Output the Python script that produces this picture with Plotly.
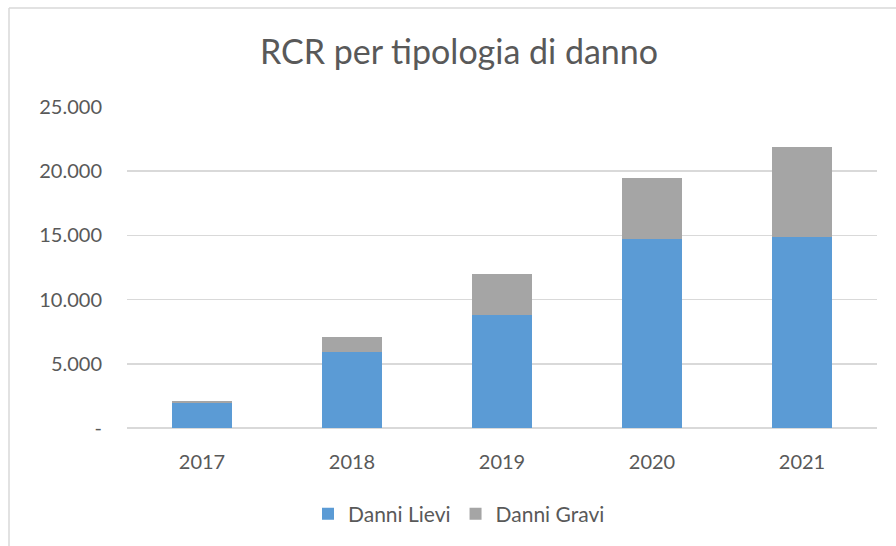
import plotly.graph_objects as go

years = ["2017", "2018", "2019", "2020", "2021"]
danni_lievi = [1950, 5900, 8800, 14700, 14900]
danni_gravi = [120, 1200, 3200, 4800, 7000]
y_tick_vals = [0, 5000, 10000, 15000, 20000, 25000]
y_tick_text = ["-", "5.000", "10.000", "15.000", "20.000", "25.000"]

FONT = "Lato"
TXT = "#595959"

fig = go.Figure()
fig.add_trace(go.Bar(x=years, y=danni_lievi, name="Danni Lievi",
                     marker=dict(color="#5B9BD5", line=dict(width=0))))
fig.add_trace(go.Bar(x=years, y=danni_gravi, name="Danni Gravi",
                     marker=dict(color="#A5A5A5", line=dict(width=0))))

W, H = 896, 546
PL, PR, PT, PB = 127, 877, 107, 428   # plot area in page pixels
L, T, R, B = PL, PT, W - PR, H - PB
pw, ph = PR - PL, PB - PT

fx0 = (9 - PL) / pw
fx1 = (1000 - PL) / pw
fy1 = (PB - 8) / ph
fy0 = -(700 - PB) / ph
frame = dict(color="#D9D9D9", width=1.5)

fig.update_layout(
    barmode="stack",
    bargap=0.6,
    width=W, height=H,
    margin=dict(l=L, r=R, t=T, b=B, autoexpand=False),
    paper_bgcolor="white",
    plot_bgcolor="white",
    font=dict(family=FONT, color=TXT),
    title=dict(text="RCR per tipologia di danno", x=(459 - PL) / pw, xref="paper",
               xanchor="center", y=1 - 52 / H, yanchor="middle",
               font=dict(size=34, color=TXT, family=FONT)),
    xaxis=dict(showgrid=False, showline=False, ticks="", ticklabelstandoff=20,
               tickfont=dict(size=20, color=TXT, family=FONT)),
    yaxis=dict(range=[0, 25000], tickvals=y_tick_vals, ticktext=y_tick_text,
               showgrid=True, gridcolor="#D9D9D9", gridwidth=1.5,
               zeroline=True, zerolinecolor="#D9D9D9", zerolinewidth=1.5,
               showline=False, ticks="", ticklabelstandoff=24,
               tickfont=dict(size=20, color=TXT, family=FONT)),
    legend=dict(orientation="h", x=(459 - PL) / pw, xanchor="center",
                y=(PB - 514) / ph, yanchor="middle",
                font=dict(size=21, color=TXT, family=FONT),
                itemwidth=30, traceorder="normal"),
    shapes=[
        dict(type="line", xref="paper", yref="paper",
             x0=fx0, x1=fx1, y0=fy1, y1=fy1, line=frame, layer="below"),
        dict(type="line", xref="paper", yref="paper",
             x0=fx0, x1=fx0, y0=fy0, y1=fy1, line=frame, layer="below"),
    ],
)

page_js = ("document.body.style.margin='0';"
           "document.body.style.overflow='hidden';"
           "document.documentElement.style.overflow='hidden';")

fig.write_html("out.html", post_script=page_js,
               config={"displayModeBar": False, "staticPlot": True})
